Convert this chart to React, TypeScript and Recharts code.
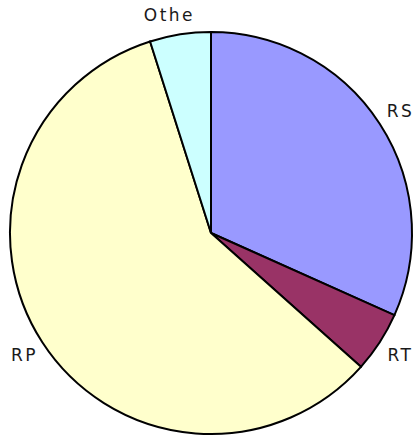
import { PieChart, Pie, Cell } from "recharts";

const names = ["RS", "RT", "RP", "Other"];
const shares = [31.7, 4.9, 58.5, 4.9];
const COLORS = ["#9999ff", "#993366", "#ffffcc", "#ccffff"];

const data = names.map((name, i) => ({ name, value: shares[i] }));

const RAD = Math.PI / 180;

function renderLabel(props: any) {
  const { cx, cy, midAngle, outerRadius, name } = props;
  const r = outerRadius + 23;
  let x = cx + r * Math.cos(-midAngle * RAD) + 1.5;
  let y = cy + r * Math.sin(-midAngle * RAD);
  // the top label sits a little lower and further left
  if (name === "Other") {
    x -= 4;
    y += 3;
  }
  return (
    <text
      x={x}
      y={y}
      textAnchor="middle"
      dominantBaseline="central"
      fill="#1a1a1a"
      fontSize={17}
      fontFamily="DejaVu Sans"
      letterSpacing={2.5}
      clipPath={name === "Other" ? "url(#otherClip)" : undefined}
    >
      {name}
    </text>
  );
}

export default function App() {
  return (
    <div style={{ position: "absolute", left: 0, top: 0, width: 415, height: 436, background: "#fff" }}>
      <PieChart width={415} height={436} margin={{ top: 0, right: 0, bottom: 0, left: 0 }}>
        <defs>
          <clipPath id="otherClip">
            <rect x={0} y={0} width={193} height={40} />
          </clipPath>
        </defs>
        <Pie
          data={data}
          dataKey="value"
          cx={211}
          cy={233}
          outerRadius={201}
          startAngle={90}
          endAngle={-270}
          stroke="#000"
          strokeWidth={2}
          label={renderLabel}
          labelLine={false}
          isAnimationActive={false}
        >
          {data.map((_, i) => (
            <Cell key={i} fill={COLORS[i]} />
          ))}
        </Pie>
      </PieChart>
    </div>
  );
}
